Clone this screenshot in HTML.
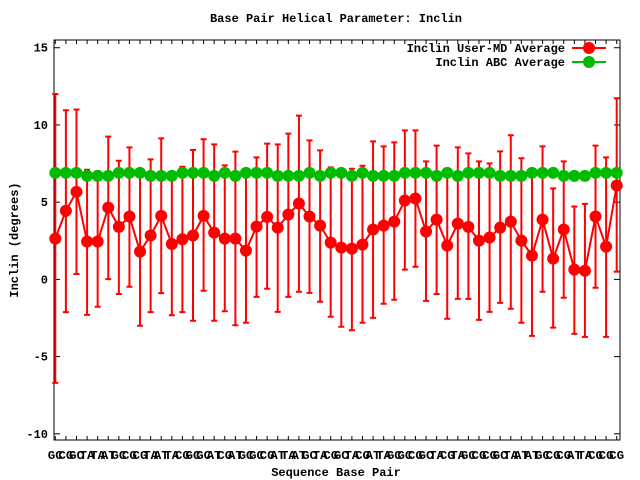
<!DOCTYPE html>
<html><head><meta charset="utf-8"><style>
body{margin:0;background:#fff;}
svg{display:block;font-family:"Liberation Mono",monospace;font-weight:bold;}
</style></head><body>
<svg id="chart" width="640" height="480" viewBox="0 0 640 480">
<rect width="640" height="480" fill="#fff"/>
<text x="336" y="22" font-size="12" text-anchor="middle">Base Pair Helical Parameter: Inclin</text>
<text x="336" y="476" font-size="12" text-anchor="middle">Sequence Base Pair</text>
<text x="18" y="240" font-size="12" text-anchor="middle" transform="rotate(-90 18 240)">Inclin (degrees)</text>
<g id="plot"></g>
<g id="legend">
<text x="565" y="52" font-size="12" text-anchor="end">Inclin User-MD Average</text>
<line x1="572" y1="48" x2="606" y2="48" stroke="#f00" stroke-width="2"/>
<circle cx="589" cy="48" r="6" fill="#f00"/>
<text x="565" y="66" font-size="12" text-anchor="end">Inclin ABC Average</text>
<line x1="572" y1="62" x2="606" y2="62" stroke="#0b0" stroke-width="2"/>
<circle cx="589" cy="62" r="6" fill="#0b0"/>
</g>
</svg>
<script>
const categories = ["GC","CG","GC","TA","TA","AT","GC","CG","CG","TA","AT","TA","CG","GC","GC","AT","CG","AT","GC","GC","CG","AT","TA","AT","GC","TA","CG","GC","TA","CG","AT","TA","GC","GC","CG","GC","TA","CG","TA","GC","CG","CG","GC","TA","AT","AT","GC","CG","CG","AT","TA","CG","CG","CG"];
const mdValues = [2.64,4.44,5.67,2.45,2.45,4.65,3.4,4.07,1.8,2.84,4.11,2.29,2.6,2.84,4.11,3.03,2.64,2.64,1.86,3.42,4.05,3.35,4.2,4.91,4.07,3.48,2.38,2.06,1.99,2.25,3.23,3.48,3.74,5.11,5.24,3.1,3.87,2.19,3.61,3.4,2.51,2.71,3.35,3.74,2.51,1.54,3.87,1.34,3.23,0.63,0.56,4.07,2.12,6.08];
const mdHigh = [12.0,10.95,11.0,7.1,7.0,9.24,7.68,8.55,6.8,7.77,9.13,6.9,7.29,8.38,9.07,8.74,7.38,8.27,6.9,7.9,8.79,8.74,9.44,10.6,9.0,8.35,7.25,7.0,7.16,7.36,8.94,8.61,8.87,9.65,9.65,7.64,8.66,6.9,8.55,8.16,7.64,7.51,8.29,9.33,7.84,6.9,8.61,5.89,7.64,4.72,4.89,8.66,7.9,11.73];
const mdLow = [-6.7,-2.12,0.35,-2.3,-1.77,0.02,-0.95,-0.48,-3.0,-2.12,-0.89,-2.32,-2.12,-2.68,-0.74,-2.68,-2.06,-2.97,-2.81,-1.13,-0.61,-2.1,-1.13,-0.8,-0.87,-1.45,-2.42,-3.07,-3.29,-2.81,-2.49,-1.58,-1.32,0.63,0.82,-1.39,-0.95,-2.55,-1.26,-1.26,-2.62,-2.1,-1.52,-1.9,-2.81,-3.66,-0.8,-3.12,-1.19,-3.53,-3.72,-0.54,-3.72,0.5];
const abcValues = [6.9,6.9,6.9,6.7,6.7,6.7,6.9,6.9,6.9,6.7,6.7,6.7,6.9,6.9,6.9,6.7,6.9,6.7,6.9,6.9,6.9,6.7,6.7,6.7,6.9,6.7,6.9,6.9,6.7,6.9,6.7,6.7,6.7,6.9,6.9,6.9,6.7,6.9,6.7,6.9,6.9,6.9,6.7,6.7,6.7,6.9,6.9,6.9,6.7,6.7,6.7,6.9,6.9,6.9];
const yTicks = [-10,-5,0,5,10,15];

const NS="http://www.w3.org/2000/svg";
const g=document.getElementById('plot');
const L=54,R=620,T=40,B=440;
const yMin=-10.4,yMax=15.5;
const n=categories.length;
function xs(i){return 55.3+i*(616.7-55.3)/(n-1);}
function ys(v){return B-(v-yMin)/(yMax-yMin)*(B-T);}
function mk(tag,attrs){const e=document.createElementNS(NS,tag);for(const k in attrs)e.setAttribute(k,attrs[k]);g.appendChild(e);return e;}

let e=mk('rect',{x:L,y:T,width:R-L,height:B-T,fill:'none',stroke:'#000','stroke-width':1});


yTicks.forEach(t=>{
  const y=ys(t);
  mk('line',{x1:L,y1:y,x2:L+6,y2:y,stroke:'#000'});
  mk('line',{x1:R,y1:y,x2:R-6,y2:y,stroke:'#000'});
  const tx=mk('text',{x:L-6,y:y+4,'font-size':12,'text-anchor':'end'});
  tx.textContent=t;
  
  
});
categories.forEach((c,i)=>{
  const x=xs(i);
  mk('line',{x1:x,y1:B,x2:x,y2:B-4,stroke:'#000'});
  mk('line',{x1:x,y1:T,x2:x,y2:T+4,stroke:'#000'});
  const tx=mk('text',{x:x,y:B+19,'font-size':12,'text-anchor':'middle',textLength:15,lengthAdjust:'spacingAndGlyphs'});
  tx.textContent=c;
  
  
});
// error bars
mdValues.forEach((v,i)=>{
  const x=xs(i);
  const eb=mk('path',{d:`M${x},${ys(mdHigh[i])}V${ys(mdLow[i])}M${x-3},${ys(mdHigh[i])}h6M${x-3},${ys(mdLow[i])}h6`,stroke:'#f00','stroke-width':2,fill:'none'});
  
  
});
// lines
let ln=mk('polyline',{points:abcValues.map((v,i)=>xs(i)+','+ys(v)).join(' '),fill:'none',stroke:'#0b0','stroke-width':2});


ln=mk('polyline',{points:mdValues.map((v,i)=>xs(i)+','+ys(v)).join(' '),fill:'none',stroke:'#f00','stroke-width':2});


abcValues.forEach((v,i)=>{
  const c=mk('circle',{cx:xs(i),cy:ys(v),r:6,fill:'#0b0'});
  
  
});
mdValues.forEach((v,i)=>{
  const c=mk('circle',{cx:xs(i),cy:ys(v),r:6,fill:'#f00'});
  
  
});
</script>
</body></html>
